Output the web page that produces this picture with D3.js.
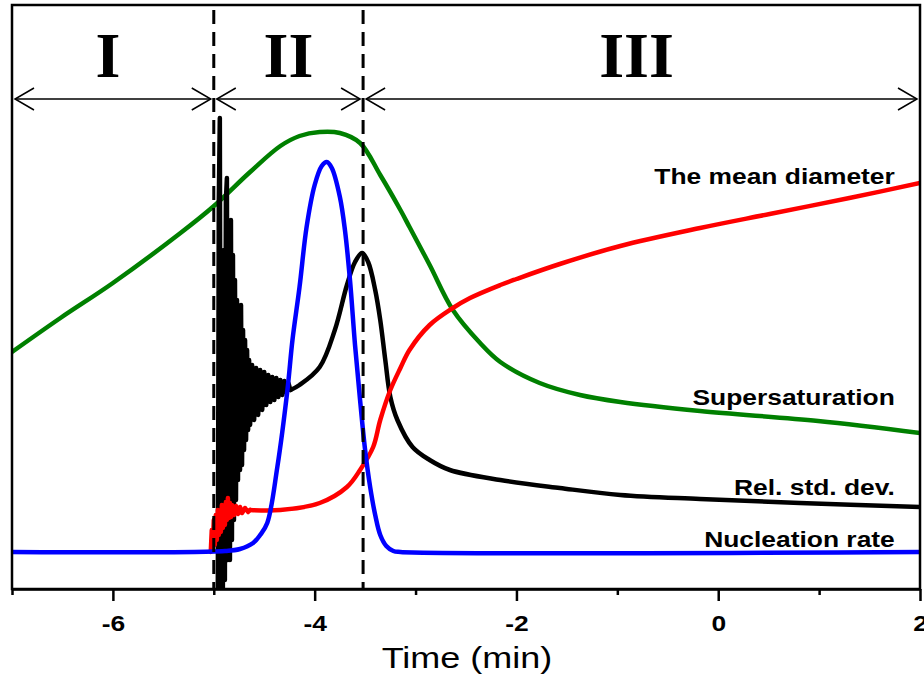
<!DOCTYPE html>
<html>
<head>
<meta charset="utf-8">
<script src="https://cdn.jsdelivr.net/npm/d3@7/dist/d3.min.js"></script>
<style>
  body { margin: 0; background: #fff; }
  svg { display: block; }
</style>
</head>
<body>
<svg id="chart" width="924" height="674"></svg>
<script>
// ---- data (time in min, signals in arbitrary units) ----
const supersatTime = [-7.00, -6.52, -6.00, -5.33, -5.01, -4.64, -4.34, -4.15, -3.95, -3.75, -3.55, -3.35, -3.15, -3.06, -2.86, -2.63, -2.36, -2.16, -1.77, -1.37, -0.97, -0.18, 0.99, 2.00];
const supersatValue = [23.7, 27.1, 30.6, 35.6, 38.2, 41.7, 44.3, 45.3, 45.7, 45.6, 44.6, 41.4, 37.9, 36.2, 32.4, 27.9, 24.6, 22.7, 20.6, 19.4, 18.7, 17.8, 16.8, 15.6];

const diameterTime = [-5.03, -5.02, -5.01, -5.00, -4.99, -4.98, -4.97, -4.96, -4.95, -4.94, -4.93, -4.92, -4.91, -4.90, -4.89, -4.88, -4.87, -4.86, -4.85, -4.84, -4.83, -4.82, -4.80, -4.78, -4.76, -4.74, -4.72, -4.69, -4.66, -4.64,
  -4.34, -3.95, -3.68, -3.55, -3.42, -3.35, -3.25, -3.15, -3.06, -2.86, -2.63, -2.46, -2.16, -2.00, -1.57, -0.97, -0.18, 0.51, 1.30, 2.00];
const diameterValue = [3.7, 5.9, 4.1, 6.9, 4.4, 7.4, 4.9, 7.9, 5.4, 7.7, 5.7, 8.4, 6.1, 8.1, 6.4, 8.7, 6.9, 9.1, 7.1, 8.6, 7.2, 8.4, 7.4, 8.3, 7.5, 8.2, 7.6, 8.1, 7.7, 7.9,
  7.9, 8.6, 10.2, 11.9, 14.2, 16.9, 19.9, 22.1, 23.9, 26.4, 28.1, 29.1, 30.4, 31.0, 32.5, 34.3, 36.1, 37.5, 39.1, 40.6];

const stdDevTime = [-4.96, -4.95, -4.94, -4.93, -4.92, -4.91, -4.90, -4.89, -4.88, -4.87, -4.86, -4.85, -4.84, -4.83, -4.82, -4.81, -4.80, -4.79, -4.78, -4.77, -4.76, -4.75, -4.74, -4.73, -4.72, -4.71, -4.70, -4.69, -4.68, -4.67, -4.66, -4.65, -4.64,
  -4.62, -4.60, -4.58, -4.56, -4.54, -4.52, -4.50, -4.48, -4.46, -4.44, -4.42, -4.40, -4.38, -4.36, -4.34, -4.32, -4.30, -4.28, -4.26, -4.24,
  -4.15, -3.95, -3.80, -3.68, -3.60, -3.53, -3.47, -3.40, -3.35, -3.30, -3.25, -3.18, -3.03, -2.86, -2.66, -2.16, -1.57, -0.97, -0.18, 0.81, 2.00];
const stdDevValue = [-0.3, 38.9, 47.1, -0.3, 28.9, -0.3, 33.9, 0.9, 38.9, 41.1, 2.9, 34.9, 2.9, 36.9, 4.9, 33.4, 6.9, 30.9, 8.9, 28.9, 10.9, 27.9, 11.9, 28.4, 12.4, 25.9, 13.9, 24.9, 14.9, 23.9, 15.9, 22.9, 16.4,
  22.4, 16.9, 22.1, 17.4, 21.9, 17.9, 21.7, 18.4, 21.4, 18.7, 21.2, 18.9, 21.1, 19.2, 20.9, 19.4, 20.8, 19.7, 20.6, 19.9,
  20.4, 22.2, 25.9, 30.4, 32.7, 33.6, 32.7, 29.9, 26.9, 22.9, 19.2, 16.9, 14.2, 12.9, 11.9, 10.9, 10.1, 9.4, 9.0, 8.6, 8.2];

const nucleationTime = [-7.00, -4.89, -4.74, -4.61, -4.54, -4.47, -4.37, -4.27, -4.22, -4.15, -4.08, -4.00, -3.93, -3.88, -3.83, -3.75, -3.70, -3.65, -3.60, -3.55, -3.50, -3.45, -3.40, -3.35, -3.29, -3.22, -3.15, 2.00];
const nucleationValue = [3.7, 3.8, 4.0, 4.6, 5.4, 6.6, 12.2, 19.9, 24.9, 30.2, 36.2, 40.4, 42.3, 42.7, 42.1, 39.2, 35.9, 30.9, 24.4, 18.9, 13.9, 10.2, 7.4, 5.4, 4.3, 3.8, 3.7, 3.7];

const majorTicks = [-6, -4, -2, 0, 2];
const minorTicks = [-7, -5, -3, -1, 1];
const stageBounds = [-7, -5, -3.52, 2];
const stageNames = ["I", "II", "III"];
const seriesNames = ["The mean diameter", "Supersaturation", "Rel. std. dev.", "Nucleation rate"];
const seriesColors = ["#ff0000", "#008000", "#000000", "#0000ff"];

// ---- layout ----
const W = 924, H = 674;
const margin = { top: 5, right: 4, bottom: 85, left: 12 };
const svg = d3.select("#chart");
const x = d3.scaleLinear().domain([-7, 2]).range([margin.left, W - margin.right]);
const y = d3.scaleLinear().domain([0, 58.4]).range([H - margin.bottom, margin.top]);
const STRETCH = 1.2;

svg.append("defs").append("clipPath").attr("id", "plot-clip")
  .append("rect")
  .attr("x", x(-7)).attr("y", y(58.4))
  .attr("width", x(2) - x(-7)).attr("height", y(0) - y(58.4));

const zip = (ts, vs) => ts.map((t, i) => ({ t, v: vs[i] }));
// raw, noisy start-up samples are joined straight; the settled part is smoothed
const rawLine = d3.line().x(d => x(d.t)).y(d => y(d.v)).curve(d3.curveLinear);
const smoothLine = d3.line().x(d => x(d.t)).y(d => y(d.v)).curve(d3.curveCatmullRom.alpha(0.5));

const curves = svg.append("g").attr("clip-path", "url(#plot-clip)");
const series = [
  { data: zip(supersatTime, supersatValue), color: seriesColors[1], settle: -Infinity },
  { data: zip(stdDevTime, stdDevValue), color: seriesColors[2], settle: -4.24 },
  { data: zip(diameterTime, diameterValue), color: seriesColors[0], settle: -4.64 },
  { data: zip(nucleationTime, nucleationValue), color: seriesColors[3], settle: -Infinity }
];
series.forEach(s => {
  const parts = [
    { pts: s.data.filter(d => d.t <= s.settle), gen: rawLine },
    { pts: s.data.filter(d => d.t >= s.settle), gen: smoothLine }
  ];
  parts.filter(p => p.pts.length > 1).forEach(p => {
    curves.append("path")
      .datum(p.pts)
      .attr("d", p.gen)
      .attr("fill", "none")
      .attr("stroke", s.color)
      .attr("stroke-width", 4.5)
      .attr("stroke-linejoin", "round")
      .attr("stroke-linecap", "round");
  });
});

// stage boundaries (dashed)
svg.append("g").selectAll("line")
  .data(stageBounds.slice(1, 3))
  .join("line")
  .attr("x1", d => x(d)).attr("x2", d => x(d))
  .attr("y1", y(57.9)).attr("y2", y(0))
  .attr("stroke", "#000").attr("stroke-width", 3)
  .attr("stroke-dasharray", "14,8");

// double-headed arrows spanning each stage
const arrowY = y(49.0);
const arrows = svg.append("g").attr("stroke", "#000").attr("stroke-width", 1.5).attr("fill", "none");
stageNames.forEach((name, i) => {
  const a = x(stageBounds[i]) + 3;
  const b = x(stageBounds[i + 1]) - 3;
  arrows.append("line").attr("x1", a).attr("x2", b).attr("y1", arrowY).attr("y2", arrowY);
  arrows.append("path").attr("d", `M${a + 19},${arrowY - 11}L${a},${arrowY}L${a + 19},${arrowY + 11}`);
  arrows.append("path").attr("d", `M${b - 19},${arrowY - 11}L${b},${arrowY}L${b - 19},${arrowY + 11}`);
  svg.append("text")
    .attr("transform", `translate(${x((stageBounds[i] + stageBounds[i + 1]) / 2) - (i === 1 ? 0 : 5)},${y(51.2)})`)
    .attr("text-anchor", "middle")
    .attr("font-family", "'Liberation Serif', 'Times New Roman', serif")
    .attr("font-weight", "bold")
    .attr("font-size", 64)
    .text(name);
});

// frame
svg.append("rect")
  .attr("x", x(-7)).attr("y", y(58.4))
  .attr("width", x(2) - x(-7)).attr("height", y(0) - y(58.4))
  .attr("fill", "none").attr("stroke", "#000").attr("stroke-width", 2.5);

// x axis
const xAxis = svg.append("g")
  .attr("transform", `translate(0,${y(0)})`)
  .call(d3.axisBottom(x).tickValues(majorTicks).tickSize(12).tickSizeOuter(0).tickFormat(d3.format("d")));
xAxis.select(".domain").attr("stroke-width", 2.5);
xAxis.selectAll(".tick line").attr("stroke-width", 2.5);
xAxis.selectAll(".tick text")
  .attr("font-family", "'Liberation Sans', Arial, sans-serif")
  .attr("font-weight", "bold")
  .attr("font-size", 22)
  .attr("fill", "#000")
  .attr("y", 0).attr("dy", 0)
  .attr("transform", `translate(0,42) scale(${STRETCH},1)`)
  .text(d => d < 0 ? "-" + Math.abs(d) : d);

const xMinor = svg.append("g")
  .attr("transform", `translate(0,${y(0)})`)
  .call(d3.axisBottom(x).tickValues(minorTicks).tickSize(6).tickSizeOuter(0).tickFormat(""));
xMinor.select(".domain").remove();
xMinor.selectAll(".tick line").attr("stroke-width", 2.5);

svg.append("text")
  .attr("transform", `translate(${(x(-7) + x(2)) / 2 + 1},668) scale(${STRETCH},1)`)
  .attr("text-anchor", "middle")
  .attr("font-family", "'Liberation Sans', Arial, sans-serif")
  .attr("font-size", 30)
  .text("Time (min)");

// series labels
const labelY = [40.5, 18.4, 9.4, 4.2];
seriesNames.forEach((name, i) => {
  svg.append("text")
    .attr("transform", `translate(${x(1.75)},${y(labelY[i])}) scale(${STRETCH},1)`)
    .attr("text-anchor", "end")
    .attr("font-family", "'Liberation Sans', Arial, sans-serif")
    .attr("font-weight", "bold")
    .attr("font-size", 22)
    .text(name);
});
</script>
</body>
</html>
